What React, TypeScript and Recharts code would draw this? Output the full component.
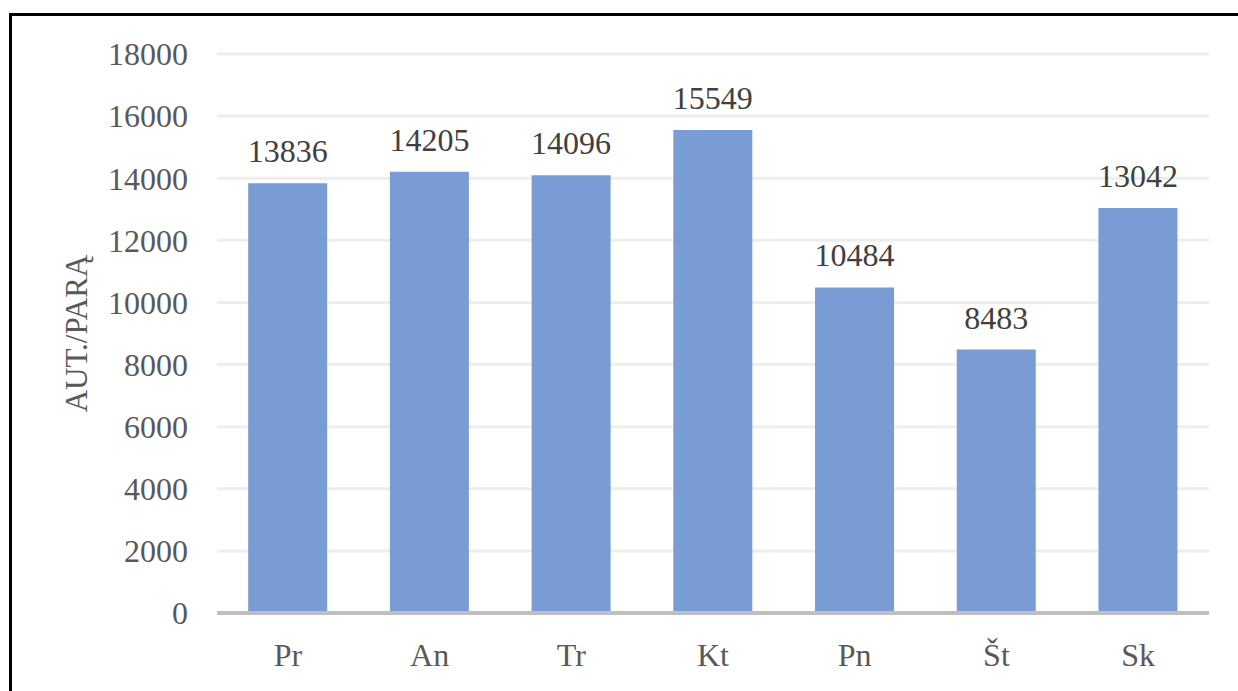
import React from 'react';
import { BarChart, Bar, XAxis, YAxis, CartesianGrid, LabelList } from 'recharts';

const categories = ['Pr', 'An', 'Tr', 'Kt', 'Pn', 'Št', 'Sk'];
const values = [13836, 14205, 14096, 15549, 10484, 8483, 13042];
const yTicks = [0, 2000, 4000, 6000, 8000, 10000, 12000, 14000, 16000, 18000];

const data = categories.map((c, i) => ({ name: c, value: values[i] }));

const FONT = "'Liberation Serif', 'Times New Roman', serif";

const renderValue = (props: any) => {
  const { x, y, width, value } = props;
  return (
    <text x={Number(x) + Number(width) / 2} y={Number(y) - 21} textAnchor="middle" fill="#404040" fontSize={32} style={{ fontFamily: FONT }}>
      {value}
    </text>
  );
};

export default function App() {
  return (
    <div style={{ position: 'fixed', left: 0, top: 0, width: 1238, height: 691, overflow: 'hidden', background: '#fff', fontFamily: FONT }}>
      <div style={{ position: 'absolute', left: 9, top: 13, width: 1300, height: 800, border: '3px solid #000', boxSizing: 'border-box' }} />
      <div style={{ position: 'absolute', left: 0, top: 0 }}>
        <BarChart width={1238} height={691} data={data} margin={{ top: 54, right: 29, bottom: 0, left: 0 }} barCategoryGap="22%" style={{ fontFamily: FONT }}>
          <CartesianGrid vertical={false} stroke="#eeeeee" strokeWidth={3} />
          <XAxis
            dataKey="name"
            axisLine={{ stroke: '#bfbfbf', strokeWidth: 4 }}
            tickLine={false}
            tickSize={0}
            tickMargin={30}
            tick={{ fill: '#595959', fontSize: 32, fontFamily: FONT }}
            height={78}
          />
          <YAxis
            width={217}
            domain={[0, 18000]}
            ticks={yTicks}
            interval={0}
            axisLine={false}
            tickLine={false}
            tickSize={0}
            tickMargin={29}
            tick={{ fill: '#595959', fontSize: 32, fontFamily: FONT }}
            label={{ value: 'AUT./PARĄ', angle: -90, position: 'center', dx: -33, fill: '#595959', fontSize: 31, fontFamily: FONT }}
          />
          <Bar dataKey="value" fill="#7a9cd5" isAnimationActive={false}>
            <LabelList dataKey="value" content={renderValue} />
          </Bar>
        </BarChart>
      </div>
    </div>
  );
}
